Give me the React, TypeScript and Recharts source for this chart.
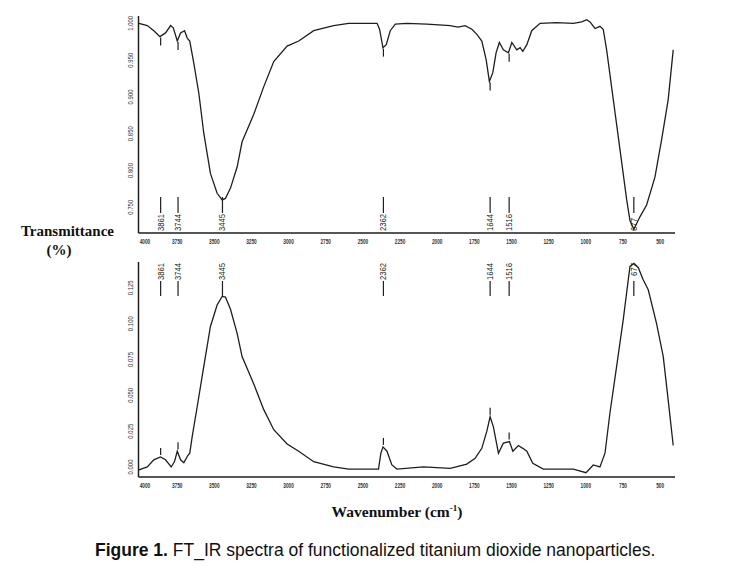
import { LineChart, Line, XAxis, YAxis, ReferenceLine, ReferenceDot } from 'recharts'

// upper trace: transmittance vs wavenumber
const topWavenumber = [
  4007, 3951, 3907, 3866, 3828, 3794, 3776, 3749, 3727, 3700,
  3682, 3665, 3638, 3604, 3571, 3526, 3481, 3447, 3425, 3391,
  3346, 3313, 3235, 3167, 3100, 3010, 2932, 2831, 2697, 2596,
  2405, 2388, 2365, 2343, 2316, 2282, 2204, 2069, 1990, 1913,
  1860, 1812, 1767, 1733, 1700, 1671, 1649, 1626, 1604, 1582,
  1555, 1521, 1498, 1465, 1442, 1424, 1397, 1364, 1308, 1196,
  1084, 1028, 994, 972, 938, 905, 883, 860, 815, 770,
  725, 703, 677, 636, 591, 535, 490, 446, 412,
]
const transmittance = [
  1.0, 0.997, 0.99, 0.982, 0.987, 0.997, 0.994, 0.976, 0.987, 0.99,
  0.98, 0.976, 0.946, 0.905, 0.851, 0.796, 0.769, 0.76, 0.762, 0.776,
  0.805, 0.839, 0.876, 0.914, 0.948, 0.969, 0.976, 0.99, 0.997, 1.0,
  1.0, 0.992, 0.967, 0.971, 0.99, 0.999, 1.0, 0.999, 0.998, 0.997,
  0.995, 0.997, 0.992, 0.985, 0.976, 0.951, 0.921, 0.933, 0.96, 0.974,
  0.964, 0.96, 0.974, 0.964, 0.967, 0.962, 0.971, 0.99, 1.0, 1.001,
  1.0, 1.002, 1.005, 1.002, 0.993, 0.996, 0.992, 0.964, 0.896, 0.828,
  0.76, 0.732, 0.72, 0.737, 0.753, 0.791, 0.842, 0.896, 0.964,
]

// lower trace
const bottomWavenumber = [
  4007, 3951, 3907, 3862, 3828, 3790, 3767, 3749, 3727, 3705,
  3678, 3665, 3649, 3615, 3571, 3526, 3481, 3447, 3425, 3391,
  3346, 3313, 3235, 3167, 3100, 3010, 2932, 2831, 2697, 2596,
  2395, 2379, 2365, 2338, 2305, 2271, 2092, 1913, 1801, 1745,
  1700, 1666, 1644, 1622, 1588, 1555, 1514, 1491, 1454, 1424,
  1397, 1357, 1286, 1084, 999, 950, 905, 871, 838, 793,
  748, 703, 676, 647, 614, 580, 524, 479, 446, 412,
]
const absorbance = [
  -0.002, 0.0, 0.005, 0.007, 0.005, 0.0, 0.004, 0.011, 0.005, 0.003,
  0.008, 0.0096, 0.021, 0.042, 0.07, 0.098, 0.113, 0.119, 0.1185, 0.11,
  0.093, 0.077, 0.058, 0.04, 0.026, 0.016, 0.011, 0.0037, 0.0, -0.0015,
  -0.0015, 0.0096, 0.014, 0.011, 0.0014, -0.0015, 0.0, -0.001, 0.002, 0.006,
  0.013, 0.025, 0.035, 0.028, 0.0096, 0.0166, 0.0177, 0.011, 0.015, 0.013,
  0.011, 0.0026, -0.0015, -0.0015, -0.004, 0.0014, 0.0, 0.0096, 0.0375, 0.07,
  0.103, 0.14, 0.142, 0.139, 0.1306, 0.1236, 0.1, 0.077, 0.0468, 0.015,
]

const wnTicks = [4000, 3750, 3500, 3250, 3000, 2750, 2500, 2250, 2000, 1750, 1500, 1250, 1000, 750, 500]
const topTicks = [0.75, 0.8, 0.85, 0.9, 0.95, 1.0]
const bottomTicks = [0, 0.025, 0.05, 0.075, 0.1, 0.125]

const peaks = ['3861', '3744', '3445', '2362', '1644', '1516', '677']
const peakTransmittance = [0.982, 0.976, 0.76, 0.967, 0.921, 0.96, 0.72]
const peakAbsorbance = [0.007, 0.011, 0.119, 0.014, 0.035, 0.0177, 0.142]
const dashedPeaks = ['3861', '3744', '2362', '1644', '1516']

const topData = topWavenumber.map((wn, i) => ({ wn, t: transmittance[i] }))
const bottomData = bottomWavenumber.map((wn, i) => ({ wn, a: absorbance[i] }))

const INK = '#1e1e1e'
const SANS = '"Liberation Sans", Arial, sans-serif'
const SERIF = '"Liberation Serif", "Times New Roman", serif'

function WnTick({ x, y, payload }: any) {
  // first label sits a bit right of the axis corner in the original
  const dx = payload.value === 4000 ? 5 : 0
  return (
    <text
      x={x + dx}
      y={y + 11}
      textAnchor="middle"
      fontSize={6.5}
      fontWeight="bold"
      fontFamily={SANS}
      fill="#333"
      textLength={String(payload.value).length === 4 ? 10.5 : 8}
      lengthAdjust="spacingAndGlyphs"
    >
      {payload.value}
    </text>
  )
}

function ValueTick({ x, y, payload }: any) {
  const tx = x - 5
  return (
    <text
      x={tx}
      y={y}
      transform={`rotate(-90 ${tx} ${y})`}
      textAnchor="middle"
      fontSize={7.5}
      fontFamily={SANS}
      fill="#3a3a3a"
      textLength={15}
      lengthAdjust="spacingAndGlyphs"
    >
      {Number(payload.value).toFixed(3)}
    </text>
  )
}

function PeakMark({ viewBox, text, side }: any) {
  if (!viewBox) return null
  const { x, y, height } = viewBox
  const len = text.length === 4 ? 17 : 13
  const common = {
    fontSize: 9,
    fontFamily: SANS,
    fill: INK,
    textLength: len,
    lengthAdjust: 'spacingAndGlyphs' as const,
  }
  if (side === 'bottom') {
    const base = y + height
    const tx = x + 3
    const ty = base - 2
    return (
      <g>
        <line x1={x} x2={x} y1={base - 36} y2={base - 20} stroke={INK} strokeWidth={1.2} />
        <text x={tx} y={ty} transform={`rotate(-90 ${tx} ${ty})`} textAnchor="start" {...common}>
          {text}
        </text>
      </g>
    )
  }
  const tx = x + 3
  const ty = y + 1
  return (
    <g>
      <line x1={x} x2={x} y1={y + 19} y2={y + 34} stroke={INK} strokeWidth={1.2} />
      <text x={tx} y={ty} transform={`rotate(-90 ${tx} ${ty})`} textAnchor="end" {...common}>
        {text}
      </text>
    </g>
  )
}

const dashBelow = (p: any) => (
  <line x1={p.cx} x2={p.cx} y1={p.cy + 1} y2={p.cy + 9} stroke={INK} strokeWidth={1.2} />
)
const dashAbove = (p: any) => (
  <line x1={p.cx} x2={p.cx} y1={p.cy - 9} y2={p.cy - 2} stroke={INK} strokeWidth={1.2} />
)

const axisLine = { stroke: INK, strokeWidth: 1.5 }

export default function App() {
  return (
    <div style={{ position: 'absolute', left: 0, top: 0, width: 743, height: 572, background: '#fff' }}>
      <div style={{ position: 'absolute', left: 0, top: 0 }}>
        <LineChart width={743} height={250} data={topData} margin={{ top: 16, right: 68, bottom: 0, left: 0 }}>
          <XAxis
            dataKey="wn"
            type="number"
            domain={[400, 4010]}
            reversed
            ticks={wnTicks}
            interval={0}
            tick={<WnTick />}
            tickLine={false}
            tickSize={0}
            tickMargin={0}
            height={17}
            axisLine={axisLine}
          />
          <YAxis
            type="number"
            domain={[0.715, 1.01]}
            ticks={topTicks}
            interval={0}
            tick={<ValueTick />}
            tickLine={false}
            tickSize={0}
            tickMargin={0}
            width={138.5}
            axisLine={axisLine}
          />
          <Line dataKey="t" type="linear" stroke={INK} strokeWidth={1.3} dot={false} isAnimationActive={false} />
          {peaks.map((p) => (
            <ReferenceLine key={p} x={Number(p)} stroke="none" label={<PeakMark text={p} side="bottom" />} />
          ))}
          {peaks.map((p, i) =>
            dashedPeaks.includes(p) ? (
              <ReferenceDot key={'d' + p} x={Number(p)} y={peakTransmittance[i]} r={0} shape={dashBelow} />
            ) : null
          )}
        </LineChart>
      </div>

      <div style={{ position: 'absolute', left: 0, top: 250 }}>
        <LineChart width={743} height={245} data={bottomData} margin={{ top: 12, right: 68, bottom: 0, left: 0 }}>
          <XAxis
            dataKey="wn"
            type="number"
            domain={[400, 4010]}
            reversed
            ticks={wnTicks}
            interval={0}
            tick={<WnTick />}
            tickLine={false}
            tickSize={0}
            tickMargin={0}
            height={18}
            axisLine={axisLine}
          />
          <YAxis
            type="number"
            domain={[-0.007, 0.143]}
            ticks={bottomTicks}
            interval={0}
            tick={<ValueTick />}
            tickLine={false}
            tickSize={0}
            tickMargin={0}
            width={138.5}
            axisLine={axisLine}
          />
          <Line dataKey="a" type="linear" stroke={INK} strokeWidth={1.3} dot={false} isAnimationActive={false} />
          {peaks.map((p) => (
            <ReferenceLine key={p} x={Number(p)} stroke="none" label={<PeakMark text={p} side="top" />} />
          ))}
          {peaks.map((p, i) =>
            dashedPeaks.includes(p) ? (
              <ReferenceDot key={'d' + p} x={Number(p)} y={peakAbsorbance[i]} r={0} shape={dashAbove} />
            ) : null
          )}
        </LineChart>
      </div>

      <div style={{ position: 'absolute', left: 0, width: 135, top: 223, textAlign: 'center', fontFamily: SERIF, fontWeight: 'bold', fontSize: 15, lineHeight: '16px', color: '#111' }}>
        Transmittance
      </div>
      <div style={{ position: 'absolute', left: 0, width: 118, top: 242, textAlign: 'center', fontFamily: SERIF, fontWeight: 'bold', fontSize: 15, lineHeight: '16px', color: '#111' }}>
        (%)
      </div>
      <div style={{ position: 'absolute', left: 247, width: 300, top: 499, textAlign: 'center', fontFamily: SERIF, fontWeight: 'bold', fontSize: 15.5, lineHeight: '18px', color: '#111' }}>
        Wavenumber (cm<sup style={{ fontSize: 9 }}>-1</sup>)
      </div>
      <div style={{ position: 'absolute', left: 95, top: 539, fontFamily: SANS, fontSize: 17.5, lineHeight: '22px', color: '#111', whiteSpace: 'nowrap' }}>
        <b>Figure 1.</b> FT_IR spectra of functionalized titanium dioxide nanoparticles.
      </div>
    </div>
  )
}
